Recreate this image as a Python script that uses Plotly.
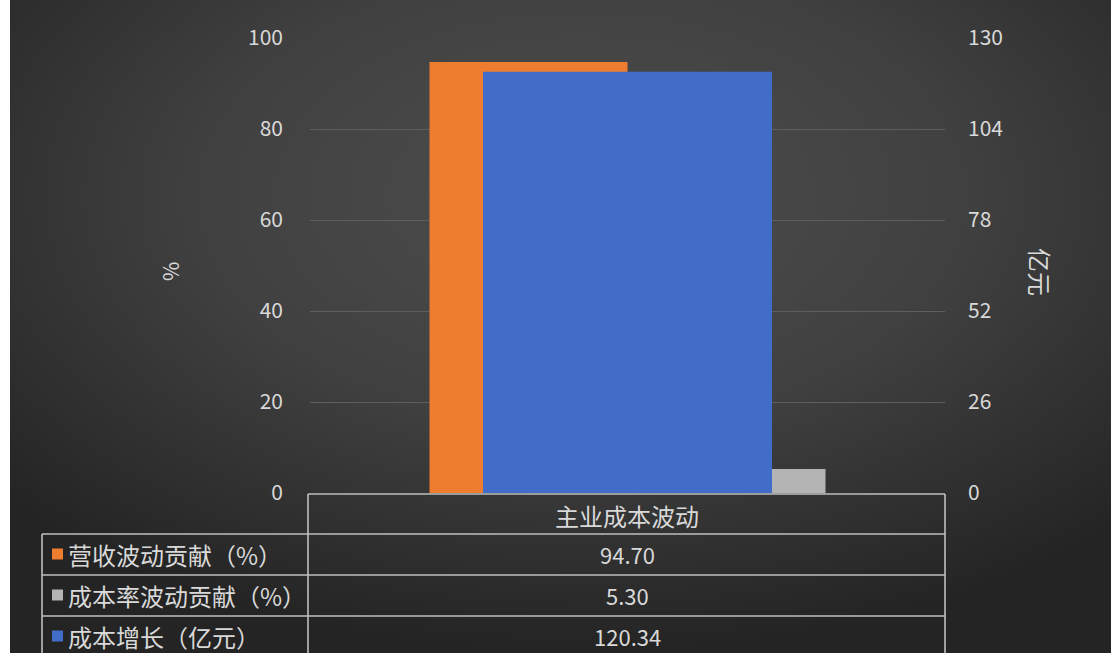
import base64
import plotly.graph_objects as go

# ---------------- data ----------------
categories = ["主业成本波动"]
series_names = ["营收波动贡献（%）", "成本率波动贡献（%）", "成本增长（亿元）"]
revenue_contrib = [94.70]      # % (left axis)
costrate_contrib = [5.30]      # % (left axis)
cost_growth = [120.34]         # 亿元 (right axis)
left_ticks = [0, 20, 40, 60, 80, 100]
right_ticks = [0, 26, 52, 78, 104, 130]
left_title = "%"
right_title = "亿元"

# ---------------- style ----------------
W, H = 1111, 653
L, R, T, B = 310, 166, 38, 160
PW, PH = W - L - R, H - T - B
FONT = "Noto Sans CJK SC"
TXT = "#d9d9d9"
C_ORANGE = "#ef7d30"
C_GRAY = "#b4b4b4"
C_BLUE = "#416dc9"
LINE = "#bfbfbf"


def px(xp):
    return (xp - L) / PW


def py(yp):
    return (H - B - yp) / PH


fig = go.Figure()
w_small = 198 / PW
w_big = 289 / PW
fig.add_trace(go.Bar(x=categories, y=revenue_contrib, name=series_names[0],
                     marker=dict(color=C_ORANGE, line=dict(width=0)),
                     width=w_small, offset=-w_small, yaxis="y"))
fig.add_trace(go.Bar(x=categories, y=costrate_contrib, name=series_names[1],
                     marker=dict(color=C_GRAY, line=dict(width=0)),
                     width=w_small, offset=0, yaxis="y"))
fig.add_trace(go.Bar(x=categories, y=cost_growth, name=series_names[2],
                     marker=dict(color=C_BLUE, line=dict(width=0)),
                     width=w_big, offset=-w_big / 2, yaxis="y2"))

# background radial gradient
svg = f'''<svg xmlns="http://www.w3.org/2000/svg" width="{W-10}" height="{H}" viewBox="0 0 {W-10} {H}" preserveAspectRatio="none">
<defs><radialGradient id="g" cx="52%" cy="30%" r="70%" fx="52%" fy="30%">
<stop offset="0%" stop-color="#4e4e4e"/><stop offset="50%" stop-color="#404040"/><stop offset="100%" stop-color="#242424"/>
</radialGradient></defs><rect width="100%" height="100%" fill="url(#g)"/></svg>'''
src = "data:image/svg+xml;base64," + base64.b64encode(svg.encode()).decode()

shapes = []


def hline(y, x0, x1):
    shapes.append(dict(type="line", xref="paper", yref="paper", x0=px(x0), x1=px(x1),
                       y0=py(y), y1=py(y), line=dict(color=LINE, width=1.6)))


def vline(x, y0, y1):
    shapes.append(dict(type="line", xref="paper", yref="paper", x0=px(x), x1=px(x),
                       y0=py(y0), y1=py(y1), line=dict(color=LINE, width=1.6)))


hline(494, 308, 945)
for yy in (534, 575, 616):
    hline(yy, 42, 945)
vline(308, 494, 660)
vline(945, 494, 660)
vline(42, 534, 660)


def ann(x, y, text, size, xanchor="center", angle=0):
    return dict(x=px(x), y=py(y), xref="paper", yref="paper", text=text,
                xanchor=xanchor, yanchor="middle", textangle=angle, showarrow=False,
                font=dict(size=size, color=TXT, family=FONT))


annotations = [ann(627, 515, categories[0], 24)]
row_centers = [554, 595, 636]
colors = [C_ORANGE, C_GRAY, C_BLUE]
values = [revenue_contrib[0], costrate_contrib[0], cost_growth[0]]
for yc, name, col, v in zip(row_centers, series_names, colors, values):
    shapes.append(dict(type="rect", xref="paper", yref="paper", x0=px(52), x1=px(63),
                       y0=py(yc + 5.5), y1=py(yc - 5.5), fillcolor=col, line=dict(width=0)))
    annotations.append(ann(66, yc, name, 24, xanchor="left"))
    annotations.append(ann(627, yc, f"{v:.2f}", 22))

annotations.append(ann(170, 272, left_title, 21, angle=-90))
annotations.append(ann(1041, 272, right_title, 24, angle=90))

fig.update_layout(
    width=W, height=H,
    margin=dict(l=L, r=R, t=T, b=B, pad=0),
    paper_bgcolor="white",
    plot_bgcolor="rgba(0,0,0,0)",
    barmode="overlay",
    showlegend=False,
    font=dict(family=FONT, color=TXT, size=21),
    xaxis=dict(type="category", range=[-0.5, 0.5], showticklabels=False, showgrid=False,
               zeroline=False, showline=False, ticks=""),
    yaxis=dict(range=[0, 100], tickvals=left_ticks, ticks="", showgrid=True,
               gridcolor="#5e5e5e", gridwidth=1, zeroline=False, showline=False,
               ticklabelstandoff=26, tickfont=dict(size=21, color=TXT, family=FONT)),
    yaxis2=dict(range=[0, 130], tickvals=right_ticks, overlaying="y", side="right",
                ticks="", showgrid=False, zeroline=False, showline=False,
                ticklabelstandoff=22, tickfont=dict(size=21, color=TXT, family=FONT)),
    images=[dict(source=src, xref="paper", yref="paper", x=px(10), y=py(0),
                 sizex=(W - 10) / PW, sizey=H / PH, sizing="stretch",
                 xanchor="left", yanchor="top", layer="below")],
    shapes=shapes,
    annotations=annotations,
)

fig.write_html("out.html", config={"displayModeBar": False},
               post_script="document.body.style.margin='0px';")
